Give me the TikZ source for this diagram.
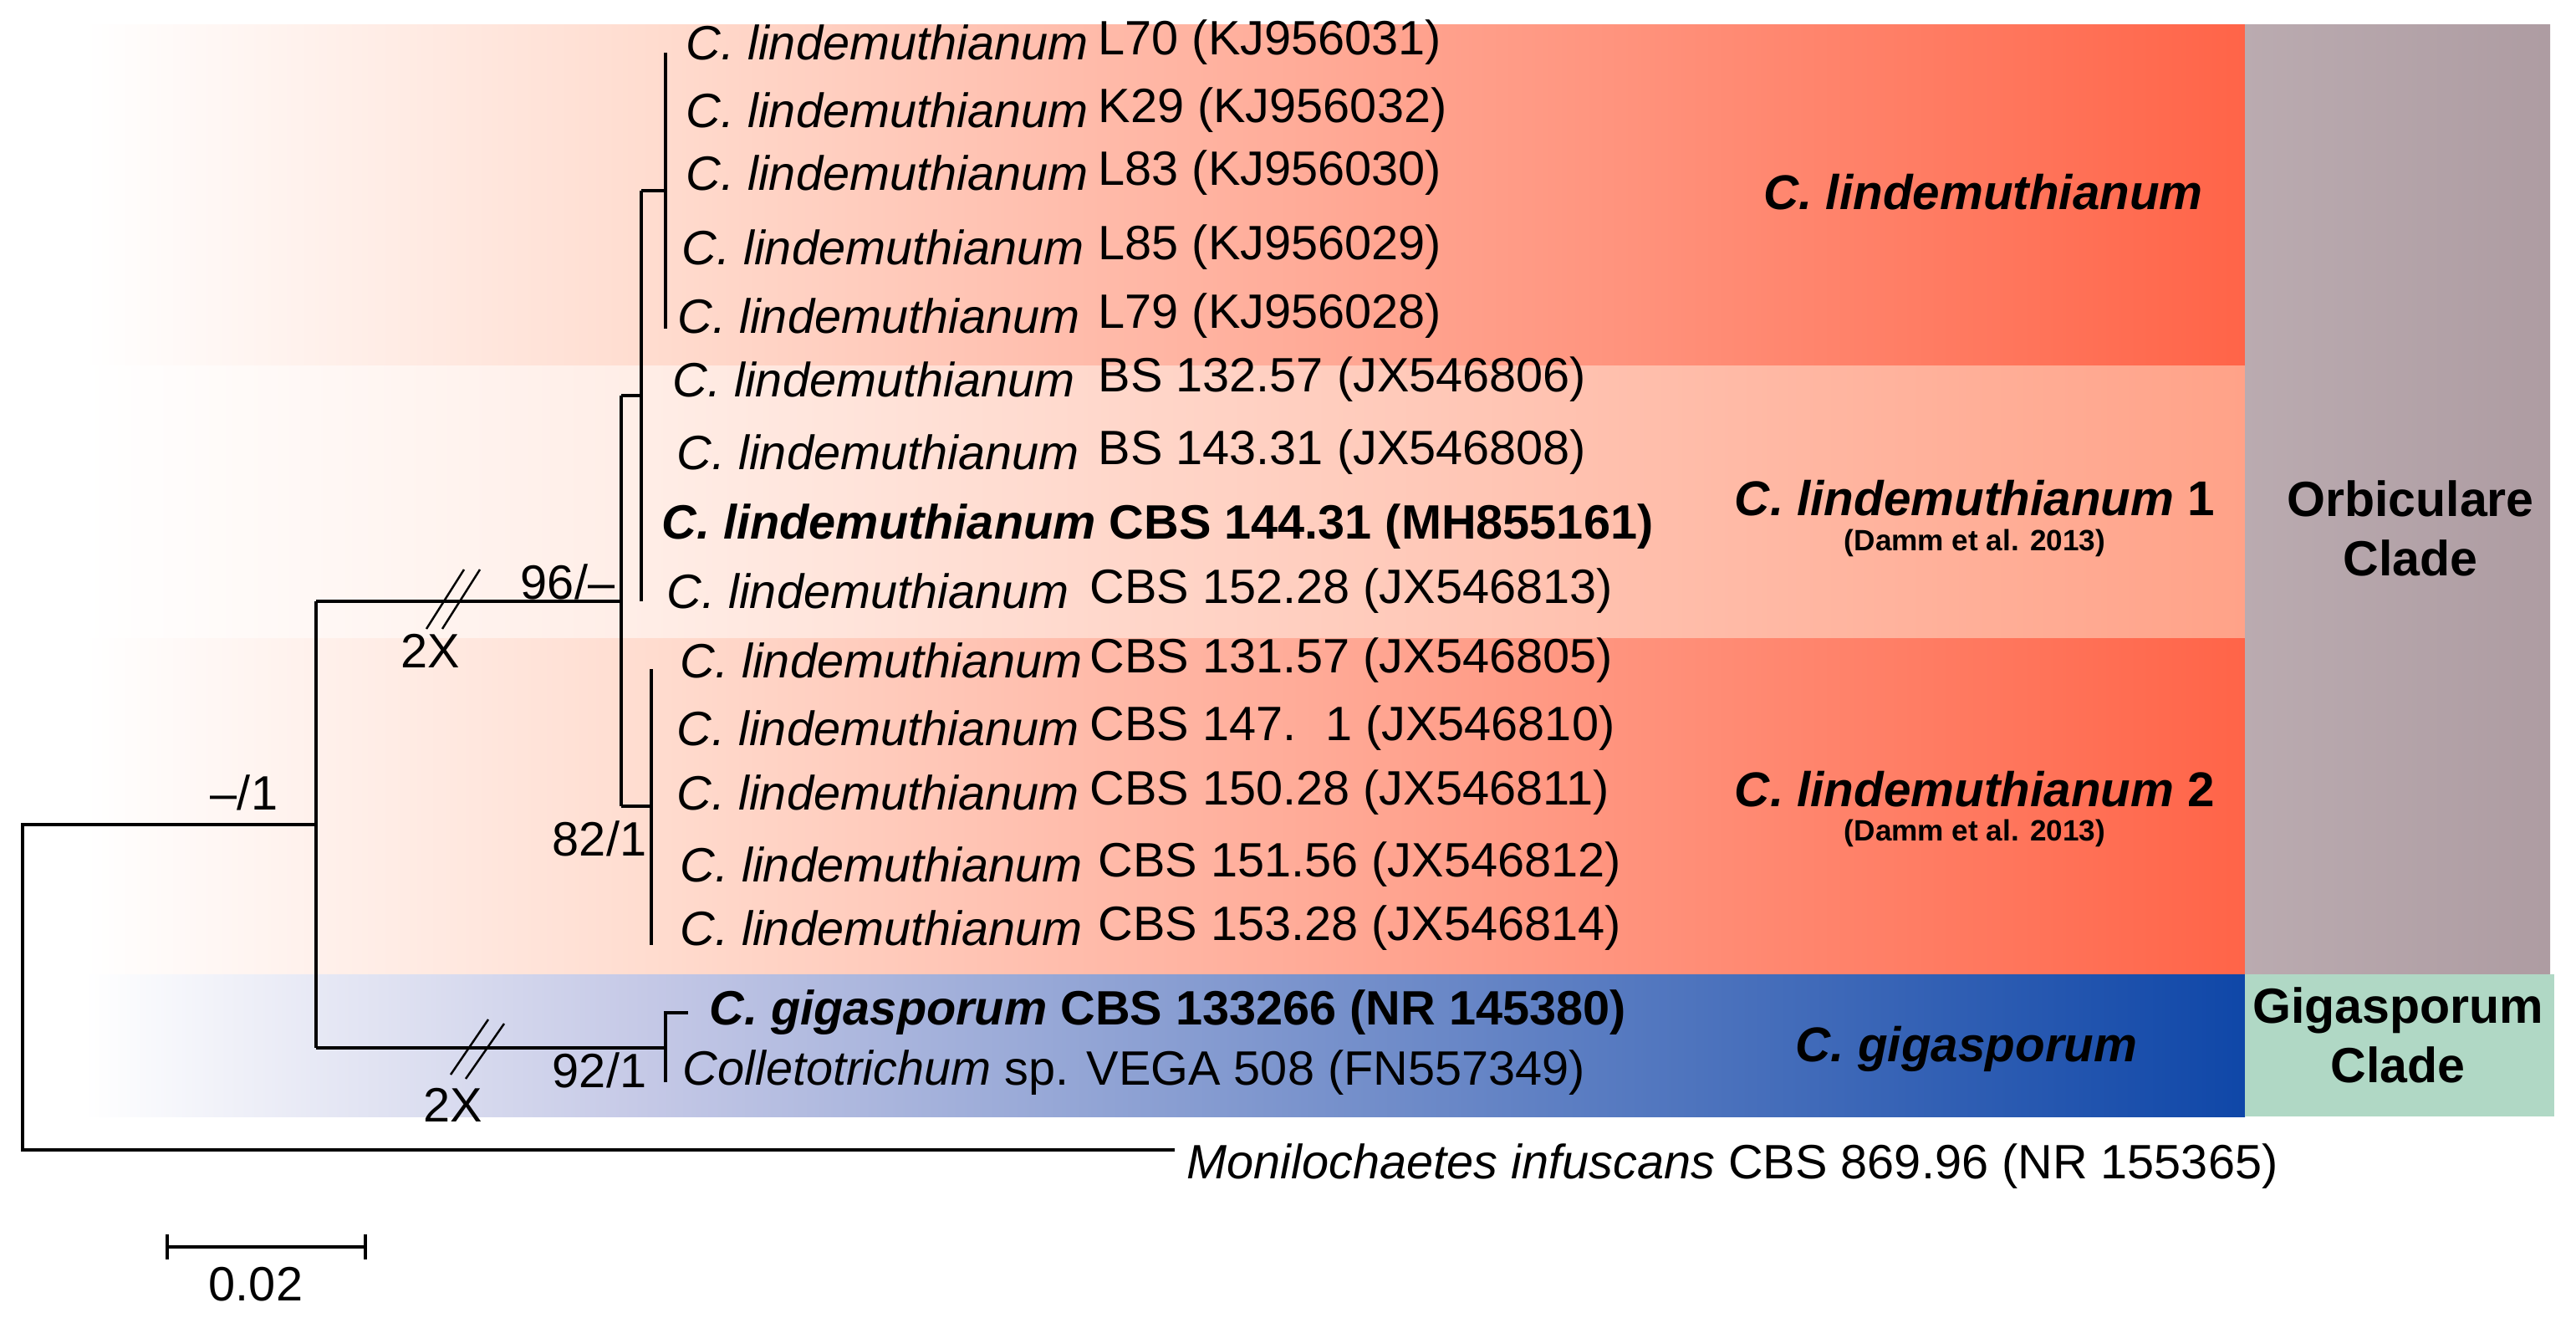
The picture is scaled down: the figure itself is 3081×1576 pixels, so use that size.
\documentclass[tikz,border=0pt]{standalone}
\usepackage{fontspec}
\setmainfont{Liberation Sans}
\usetikzlibrary{calc}
\definecolor{redA}{HTML}{FFDCCF}
\definecolor{redB}{HTML}{FF6448}
\definecolor{midA}{HTML}{FFEDE6}
\definecolor{midB}{HTML}{FFA288}
\definecolor{bluA}{HTML}{C4C8E6}
\definecolor{bluB}{HTML}{0F47A8}
\definecolor{orbC}{HTML}{AE9CA2}
\definecolor{gigC}{HTML}{B0D8C5}
\begin{document}
\begin{tikzpicture}[x=0.01cm,y=-0.01cm,
  br/.style={line width=0.9pt,black},
  tx/.style={anchor=west,inner sep=0pt,font=\fontsize{16.4}{18}\selectfont},
  sup/.style={inner sep=0pt,font=\fontsize{16.4}{18}\selectfont},
  cl/.style={inner sep=0pt,font=\fontsize{16.6}{18}\selectfont\bfseries\itshape},
  dm/.style={inner sep=0pt,font=\fontsize{10}{11}\selectfont\bfseries},
  cb/.style={inner sep=0pt,align=center,font=\fontsize{16.8}{20}\selectfont\bfseries}]
\useasboundingbox (0,0) rectangle (3081,1576);
% bands
\shade[left color=white,right color=redA] (100,30) rectangle (780,437);
\shade[left color=redA,right color=redB] (780,30) rectangle (2685,437);
\shade[left color=white,right color=midA] (100,437) rectangle (780,763);
\shade[left color=midA,right color=midB] (780,437) rectangle (2685,763);
\shade[left color=white,right color=redA] (100,763) rectangle (780,1165);
\shade[left color=redA,right color=redB] (780,763) rectangle (2685,1165);
\shade[left color=white,right color=bluA] (100,1165) rectangle (780,1335);
\shade[left color=bluA,right color=bluB] (780,1165) rectangle (2685,1335);
\shade[left color=orbC!85!white,right color=orbC] (2685,30) rectangle (3050,1165);
\fill[gigC] (2685,1165) rectangle (3055,1335);
% clade labels
\node[cl] (l0) at (2372,230) {C. lindemuthianum};
\node[cl] (l1) at (2362,596) {C. lindemuthianum \upshape 1};
\node[dm] (d1) at (2362,649) {(Damm et al. 2013)};
\node[cl] (l2) at (2362,944) {C. lindemuthianum \upshape 2};
\node[dm] (d2) at (2362,996) {(Damm et al. 2013)};
\node[cl] (lg) at (2352,1254) {C. gigasporum};
\node[cb] (orb) at (2883,632) {Orbiculare\\Clade};
\node[cb] (gig) at (2868,1238) {Gigasporum\\Clade};
% tree coordinates
\coordinate (r1) at (27,986); \coordinate (r2) at (27,1375); \coordinate (mon) at (1405,1375);
\coordinate (n1) at (378,986); \coordinate (n1t) at (378,719); \coordinate (n1b) at (378,1253);
\coordinate (n2) at (743,719); \coordinate (n2t) at (743,473); \coordinate (n2b) at (743,964);
\coordinate (n3) at (767,473); \coordinate (n3t) at (767,228); \coordinate (n3b) at (767,719);
\coordinate (n4) at (796,228); \coordinate (n4t) at (796,63); \coordinate (n4b) at (796,393);
\coordinate (n5) at (779,964); \coordinate (n5t) at (779,800); \coordinate (n5b) at (779,1130);
\coordinate (g1) at (796,1253); \coordinate (g1t) at (796,1211); \coordinate (g1b) at (796,1294);
\coordinate (g1e) at (823,1211);
\draw[br] (mon) -- (r2) -- (r1) -- (n1);
\draw[br] (n1t) -- (n1b);
\draw[br] (n1t) -- (n2); \draw[br] (n2t) -- (n2b);
\draw[br] (n2t) -- (n3); \draw[br] (n3t) -- (n3b);
\draw[br] (n3t) -- (n4); \draw[br] (n4t) -- (n4b);
\draw[br] (n2b) -- (n5); \draw[br] (n5t) -- (n5b);
\draw[br] (n1b) -- (g1); \draw[br] (g1b) -- (g1t) -- (g1e);
% break marks
\draw[br,line width=0.7pt] (510,752) -- (555,681) (529,752) -- (574,681);
\draw[br,line width=0.7pt] (539,1285) -- (584,1219) (557,1290) -- (603,1224);
% scale bar
\coordinate (s1) at (200,1491); \coordinate (s2) at (437,1491);
\draw[br] (s1) -- (s2) ($(s1)+(0,-15)$) -- ($(s1)+(0,15)$) ($(s2)+(0,-15)$) -- ($(s2)+(0,15)$);
\node[sup] (sc) at (306,1536) {0.02};
% supports
\node[sup] (b1) at (679,696) {96/--};
\node[sup] (b2) at (515,778) {2X};
\node[sup] (b3) at (292,948) {--/1};
\node[sup] (b4) at (717,1003) {82/1};
\node[sup] (b5) at (717,1280) {92/1};
\node[sup] (b6) at (542,1321) {2X};
% taxa
\node[tx] (t1) at (820,51) {\itshape C. lindemuthianum};
\node[tx] (s1t) at (1313,51) {L70 (KJ956031)};
\node[tx] (t2) at (820,132) {\itshape C. lindemuthianum};
\node[tx] (s2t) at (1313,132) {K29 (KJ956032)};
\node[tx] (t3) at (820,207) {\itshape C. lindemuthianum};
\node[tx] (s3t) at (1313,207) {L83 (KJ956030)};
\node[tx] (t4) at (815,296) {\itshape C. lindemuthianum};
\node[tx] (s4t) at (1313,296) {L85 (KJ956029)};
\node[tx] (t5) at (810,378) {\itshape C. lindemuthianum};
\node[tx] (s5t) at (1313,378) {L79 (KJ956028)};
\node[tx] (t6) at (804,454) {\itshape C. lindemuthianum};
\node[tx] (s6t) at (1313,454) {BS 132.57 (JX546806)};
\node[tx] (t7) at (809,541) {\itshape C. lindemuthianum};
\node[tx] (s7t) at (1313,541) {BS 143.31 (JX546808)};
\node[tx] (t8) at (791,630) {\bfseries\itshape C. lindemuthianum \upshape CBS 144.31 (MH855161)};
\node[tx] (t9) at (797,707) {\itshape C. lindemuthianum};
\node[tx] (s9t) at (1303,707) {CBS 152.28 (JX546813)};
\node[tx] (t10) at (813,790) {\itshape C. lindemuthianum};
\node[tx] (s10t) at (1303,790) {CBS 131.57 (JX546805)};
\node[tx] (t11) at (809,871) {\itshape C. lindemuthianum};
\node[tx] (s11t) at (1303,871) {CBS 147.\hspace{0.6em}1 (JX546810)};
\node[tx] (t12) at (809,948) {\itshape C. lindemuthianum};
\node[tx] (s12t) at (1303,948) {CBS 150.28 (JX546811)};
\node[tx] (t13) at (813,1034) {\itshape C. lindemuthianum};
\node[tx] (s13t) at (1313,1034) {CBS 151.56 (JX546812)};
\node[tx] (t14) at (813,1110) {\itshape C. lindemuthianum};
\node[tx] (s14t) at (1313,1110) {CBS 153.28 (JX546814)};
\node[tx] (t15) at (848,1211) {\bfseries\itshape C. gigasporum \upshape CBS 133266 (NR 145380)};
\node[tx] (t16) at (816,1283) {\itshape Colletotrichum \upshape sp. VEGA 508 (FN557349)};
\node[tx] (t17) at (1419,1395) {\itshape Monilochaetes infuscans \upshape CBS 869.96 (NR 155365)};
\end{tikzpicture}
\end{document}
